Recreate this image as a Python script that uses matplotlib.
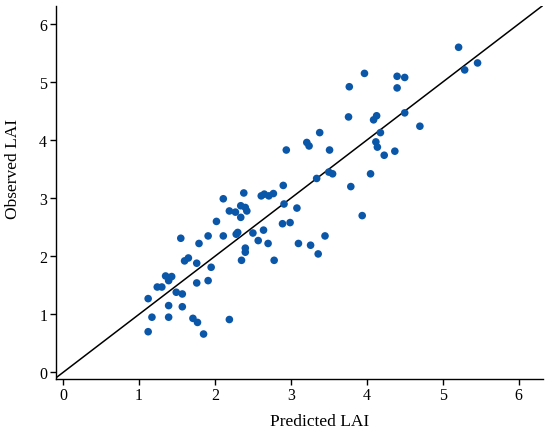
import matplotlib
matplotlib.use("Agg")
import matplotlib.pyplot as plt

predicted = [5.21, 5.29, 5.46, 3.97, 3.77, 4.40, 4.50, 4.40, 3.76, 4.09, 4.13, 4.50, 4.70,
             3.38, 4.18, 3.21, 3.24, 2.94, 3.51, 4.12, 4.14, 4.23, 4.37, 3.50, 3.55, 4.05,
             3.34, 3.79, 3.94, 2.90, 2.61, 2.65, 2.71, 2.77, 2.38, 2.11, 2.91, 3.08, 2.89,
             2.99, 2.64, 2.50, 2.57, 2.70, 3.10, 3.26, 3.45, 3.36, 2.78, 2.34, 2.40, 2.42,
             2.19, 2.27, 2.34, 2.02, 1.55, 1.79, 1.91, 2.11, 2.28, 2.30, 2.40, 2.40, 2.35,
             1.60, 1.65, 1.76, 1.95, 1.35, 1.43, 1.39, 1.24, 1.30, 1.49, 1.57, 1.76, 1.91,
             1.12, 1.39, 1.57, 1.17, 1.39, 1.71, 1.77, 2.19, 1.85, 1.12]
observed = [5.60, 5.21, 5.33, 5.15, 4.92, 5.10, 5.08, 4.90, 4.40, 4.35, 4.42, 4.47, 4.24,
            4.13, 4.13, 3.96, 3.90, 3.83, 3.83, 3.97, 3.88, 3.74, 3.81, 3.45, 3.42, 3.42,
            3.34, 3.20, 2.70, 3.22, 3.04, 3.07, 3.04, 3.08, 3.09, 2.99, 2.90, 2.83, 2.56,
            2.58, 2.45, 2.40, 2.27, 2.22, 2.22, 2.19, 2.35, 2.04, 1.93, 2.87, 2.84, 2.78,
            2.78, 2.76, 2.67, 2.60, 2.31, 2.22, 2.35, 2.35, 2.38, 2.41, 2.14, 2.07, 1.93,
            1.92, 1.97, 1.88, 1.81, 1.66, 1.65, 1.58, 1.47, 1.47, 1.38, 1.35, 1.54, 1.58,
            1.27, 1.15, 1.13, 0.95, 0.95, 0.93, 0.86, 0.91, 0.66, 0.70]
ticks = [0, 1, 2, 3, 4, 5, 6]
line_range = [-0.1, 6.32]

plt.rcParams['font.family'] = ['Liberation Serif', 'DejaVu Serif']

fig = plt.figure(figsize=(5.5, 4.35), dpi=100)
ax = fig.add_axes([0.101, 0.1264, 0.886, 0.8567])

ax.plot(line_range, line_range, color='black', lw=1.1, zorder=1)
ax.scatter(predicted, observed, s=30, color='#0a56a8', edgecolors='none', zorder=2)

ax.set_xlim(-0.1, 6.32)
ax.set_ylim(-0.115, 6.305)
ax.set_xticks(ticks)
ax.set_yticks(ticks)
for s in ['top', 'right']:
    ax.spines[s].set_visible(False)
for s in ['left', 'bottom']:
    ax.spines[s].set_linewidth(1.0)
ax.tick_params(direction='out', length=4, width=1, labelsize=11.5, pad=2)
ax.set_xlabel('Predicted LAI', fontsize=12.5)
ax.set_ylabel('Observed LAI', fontsize=12.5)
ax.xaxis.set_label_coords(0.5417, -0.091)
ax.yaxis.set_label_coords(-0.071, 0.566)

fig.savefig('out.png', dpi=100)
